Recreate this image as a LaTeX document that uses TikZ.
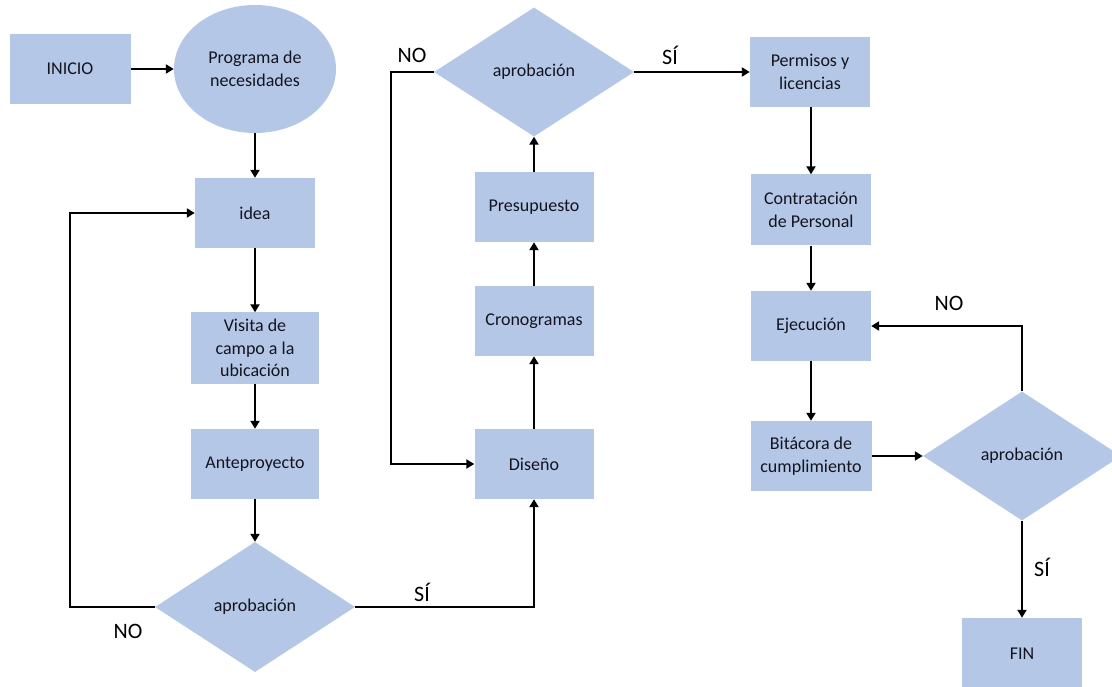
\documentclass[tikz,border=0pt]{standalone}
\usepackage{fontspec}
\setmainfont{Carlito}
\usetikzlibrary{shapes.geometric,arrows.meta}
\definecolor{boxblue}{HTML}{B4C7E7}
\definecolor{txt}{HTML}{14141E}
\begin{document}
\begin{tikzpicture}[x=1pt,y=-1pt,
  box/.style={rectangle,fill=boxblue,text=txt,minimum width=121pt,minimum height=70pt,inner sep=2pt,align=center,font=\fontsize{18}{22.5}\selectfont},
  oval/.style={ellipse,fill=boxblue,text=txt,minimum width=162pt,minimum height=128pt,inner sep=0pt,align=center,font=\fontsize{18}{22.5}\selectfont},
  decide/.style={diamond,fill=boxblue,text=txt,minimum width=200pt,minimum height=130pt,inner sep=0pt,align=center,font=\fontsize{18}{22.5}\selectfont},
  arr/.style={line width=2.8pt,-{Triangle[length=8pt,width=9pt]}},
  lbl/.style={text=black,font=\fontsize{22}{24}\selectfont,inner sep=0pt}]
\useasboundingbox (0,0) rectangle (1112,687);
\fill[white] (0,0) rectangle (1112,687);
% nodes
\node[box] (inicio) at (70,69) {INICIO};
\node[oval] (prog) at (255,69) {Programa de\\necesidades};
\node[box,minimum width=120pt] (idea) at (255,213) {idea};
\node[box,minimum width=128pt,minimum height=71pt] (visita) at (255,348) {Visita de\\campo a la\\ubicación};
\node[box,minimum width=128pt] (ante) at (255,464) {Anteproyecto};
\node[decide] (ap1) at (255,607) {aprobación};
\node[box,minimum width=119pt] (diseno) at (534,464) {Diseño};
\node[box,minimum width=119pt] (crono) at (534,321) {Cronogramas};
\node[box,minimum width=119pt] (presu) at (534,207) {Presupuesto};
\node[decide,minimum height=129pt] (ap2) at (534,72) {aprobación};
\node[box,minimum width=120pt] (perm) at (810,72) {Permisos y\\licencias};
\node[box,minimum width=120pt,minimum height=71pt] (contr) at (811,210) {Contratación\\de Personal};
\node[box,minimum width=120pt] (ejec) at (811,326) {Ejecución};
\node[box,minimum width=121pt] (bita) at (811,456) {Bitácora de\\cumplimiento};
\node[decide,minimum width=198pt,minimum height=129pt] (ap3) at (1022,456) {aprobación};
\node[box,minimum width=120pt,minimum height=72pt] (fin) at (1022,654) {FIN};
% helper coordinates
\coordinate (l1) at (70,607);
\coordinate (l2) at (70,213);
\coordinate (s1) at (534,607);
\coordinate (n2a) at (391,72);
\coordinate (n2b) at (391,464);
\coordinate (n3) at (1022,326);
% connectors
\draw[arr] (inicio.east) -- (prog.west);
\draw[arr] (prog.south) -- (idea.north);
\draw[arr] (idea.south) -- (visita.north);
\draw[arr] (visita.south) -- (ante.north);
\draw[arr] (ante.south) -- (ap1.north);
\draw[arr] (ap1.west) -- (l1) -- (l2) -- (idea.west);
\draw[arr] (ap1.east) -- (s1) -- (diseno.south);
\draw[arr] (diseno.north) -- (crono.south);
\draw[arr] (crono.north) -- (presu.south);
\draw[arr] (presu.north) -- (ap2.south);
\draw[arr] (ap2.west) -- (n2a) -- (n2b) -- (diseno.west);
\draw[arr] (ap2.east) -- (perm.west);
\draw[arr] (perm.south -| contr.north) -- (contr.north);
\draw[arr] (contr.south) -- (ejec.north);
\draw[arr] (ejec.south) -- (bita.north);
\draw[arr] (bita.east) -- (ap3.west);
\draw[arr] (ap3.north) -- (n3) -- (ejec.east);
\draw[arr] (ap3.south) -- (fin.north);
% labels
\node[lbl] (no1) at (128,631) {NO};
\node[lbl] (si1) at (422,592) {SÍ};
\node[lbl] (no2) at (412,55) {NO};
\node[lbl] (si2) at (670,55) {SÍ};
\node[lbl] (no3) at (949,303) {NO};
\node[lbl] (si3) at (1042,567) {SÍ};
\end{tikzpicture}
\end{document}
